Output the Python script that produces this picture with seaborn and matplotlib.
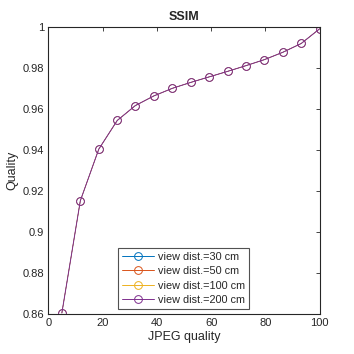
import numpy as np
import pandas as pd
import matplotlib
matplotlib.use('Agg')
import matplotlib.pyplot as plt
import seaborn as sns

# --- data ---
jpeg_quality = [5, 11.8, 18.6, 25.4, 32.1, 38.9, 45.7, 52.5, 59.3, 66.1, 72.9, 79.6, 86.4, 93.2, 100]
ssim_30 = [0.8605, 0.9153, 0.9405, 0.9545, 0.9618, 0.9665, 0.9702, 0.9731, 0.9758, 0.9785, 0.9813, 0.9842, 0.9878, 0.9921, 0.9993]
ssim_50 = [0.8605, 0.9153, 0.9405, 0.9545, 0.9618, 0.9665, 0.9702, 0.9731, 0.9758, 0.9785, 0.9813, 0.9842, 0.9878, 0.9921, 0.9993]
ssim_100 = [0.8605, 0.9153, 0.9405, 0.9545, 0.9618, 0.9665, 0.9702, 0.9731, 0.9758, 0.9785, 0.9813, 0.9842, 0.9878, 0.9921, 0.9993]
ssim_200 = [0.8605, 0.9153, 0.9405, 0.9545, 0.9618, 0.9665, 0.9702, 0.9731, 0.9758, 0.9785, 0.9813, 0.9842, 0.9878, 0.9921, 0.9993]
labels = ['view dist.=30 cm', 'view dist.=50 cm', 'view dist.=100 cm', 'view dist.=200 cm']
colors = ['#0072BD', '#D95319', '#EDB120', '#7E2F8E']

x_ticks = [0, 20, 40, 60, 80, 100]
y_ticks = [0.86, 0.88, 0.9, 0.92, 0.94, 0.96, 0.98, 1.0]
y_ticklabels = ['0.86', '0.88', '0.9', '0.92', '0.94', '0.96', '0.98', '1']

df = pd.concat([
    pd.DataFrame({'q': jpeg_quality, 'ssim': vals, 'series': lab})
    for vals, lab in zip([ssim_30, ssim_50, ssim_100, ssim_200], labels)
])

sns.set_theme(style='white')
plt.rcParams['font.family'] = ['Liberation Sans', 'DejaVu Sans']

fig = plt.figure(figsize=(3.54, 3.54), dpi=100)
ax = fig.add_axes([48.3 / 354, 1 - 314 / 354, (319.7 - 48.3) / 354, (314 - 27.3) / 354])

sns.lineplot(data=df, x='q', y='ssim', hue='series', hue_order=labels, palette=colors,
             marker='o', markersize=5.6, markerfacecolor='none', markeredgewidth=0.7,
             linewidth=0.7, legend=False, ax=ax)
# the series lie on top of each other; keep the hidden ones thin so the top one reads clean
for i, (line, c) in enumerate(zip(ax.lines, colors)):
    line.set_markeredgecolor(c)
    if i < 3:
        line.set_linewidth(0.3)
        line.set_markeredgewidth(0.3)
    else:
        line.set_linewidth(0.7)
        line.set_markeredgewidth(0.7)

ax.set_xlim(0, 100)
ax.set_ylim(0.86, 1.0)
ax.set_xticks(x_ticks)
ax.set_yticks(y_ticks)
ax.set_yticklabels(y_ticklabels)
ax.tick_params(direction='in', length=3, width=0.6, colors='#262626', labelsize=8,
               top=True, right=True, pad=3)
for s in ax.spines.values():
    s.set_color('#262626')
    s.set_linewidth(0.8)

ax.set_xlabel('JPEG quality', fontsize=9, color='#262626', labelpad=2)
ax.set_ylabel('Quality', fontsize=9, color='#262626', labelpad=3)
ax.set_title('SSIM', fontsize=9, fontweight='bold', pad=5)

handles = []
for c in colors:
    h, = ax.plot([], [], color=c, marker='o', markersize=5.6, markerfacecolor='none',
                 markeredgewidth=0.7, linewidth=0.7)
    handles.append(h)
leg = ax.legend(handles, labels, loc='lower left', bbox_to_anchor=(69.7 / 271.4, 5 / 286.7),
                fontsize=7.8, frameon=True, fancybox=False, edgecolor='#262626',
                handlelength=3.0, borderpad=0.35, labelspacing=0.42, handletextpad=0.35,
                borderaxespad=0.0)
leg.get_frame().set_linewidth(0.8)

fig.savefig('out.png', dpi=100)
